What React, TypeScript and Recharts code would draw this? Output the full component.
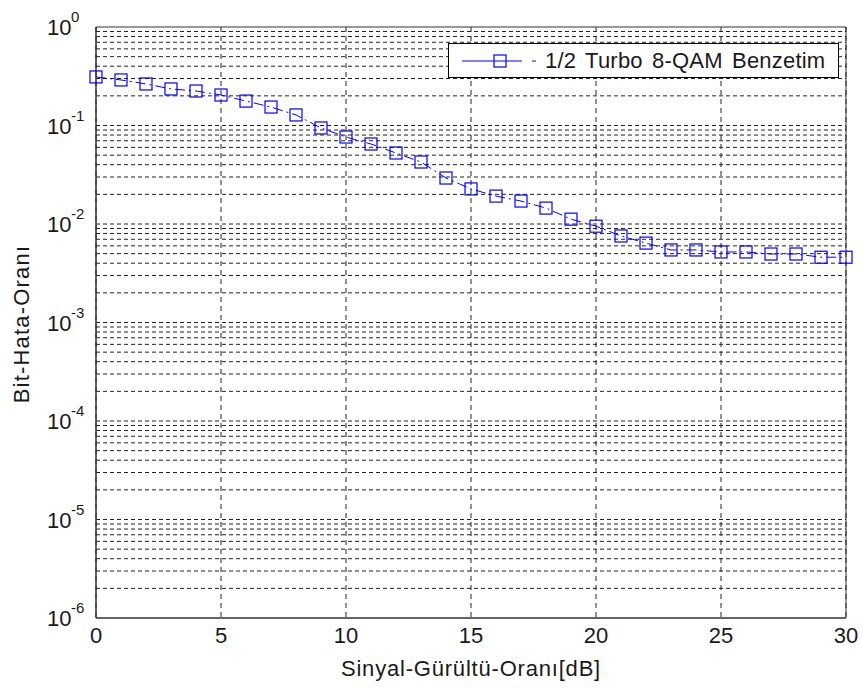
import React from 'react';
import {
  LineChart,
  Line,
  XAxis,
  YAxis,
  CartesianGrid,
  ReferenceLine,
  ReferenceArea,
  Legend,
} from 'recharts';

const snrDb = [0, 1, 2, 3, 4, 5, 6, 7, 8, 9, 10, 11, 12, 13, 14, 15, 16, 17, 18, 19, 20, 21, 22, 23, 24, 25, 26, 27, 28, 29, 30];
const berTurbo8Qam = [
  0.311, 0.29, 0.264, 0.235, 0.224, 0.204, 0.177, 0.154, 0.128, 0.0944,
  0.0764, 0.0649, 0.0526, 0.0426, 0.0293, 0.0227, 0.0192, 0.0171, 0.0145, 0.0112,
  0.0095, 0.00756, 0.0064, 0.00545, 0.00545, 0.0052, 0.0052, 0.00496, 0.00496, 0.0046, 0.0046,
];
const xTicks = [0, 5, 10, 15, 20, 25, 30];
const yTickExponents = [-6, -5, -4, -3, -2, -1, 0];
const seriesName = '1/2 Turbo 8-QAM Benzetim';
const xLabel = 'Sinyal-Gürültü-Oranı[dB]';
const yLabel = 'Bit-Hata-Oranı';

const data = snrDb.map((x, i) => ({ snr: x, ber: berTurbo8Qam[i] }));
const yTicks = yTickExponents.map((e) => Math.pow(10, e));

const gridValues: number[] = [];
for (let e = -6; e < 0; e++) {
  for (let m = 1; m <= 9; m++) {
    if (e === -6 && m === 1) continue;
    gridValues.push(m * Math.pow(10, e));
  }
}

const FONT = 'Arial, "Liberation Sans", sans-serif';
const TEXT = '#1a1a1a';
const BLUE = '#0000ff';

const YTick = (props: any) => {
  const { x, y, payload } = props;
  const exp = Math.round(Math.log10(payload.value));
  return (
    <g>
      <text x={x - 49} y={y} dy={8} fontSize={22} fill={TEXT} fontFamily={FONT} textAnchor="start">
        10
      </text>
      <text x={x - 25} y={y} dy={-5} fontSize={15} fill={TEXT} fontFamily={FONT} textAnchor="start">
        {String(exp)}
      </text>
    </g>
  );
};

const SquareDot = (props: any) => {
  const { cx, cy, index } = props;
  if (cx == null || cy == null) return <g key={index} />;
  return <rect key={index} x={cx - 6} y={cy - 6} width={12} height={12} fill="none" stroke={BLUE} strokeWidth={1.2} />;
};

const LegendBox = (props: any) => {
  const payload = props.payload || [];
  return (
    <div
      style={{
        border: '1px solid #000',
        background: '#fff',
        height: 35,
        display: 'flex',
        alignItems: 'center',
        boxSizing: 'border-box',
      }}
    >
      {payload.map((p: any, i: number) => (
        <div key={i} style={{ display: 'flex', alignItems: 'center' }}>
          <svg width={96} height={20} style={{ display: 'block' }}>
            <line x1={13} y1={10} x2={89} y2={10} stroke={BLUE} strokeWidth={1} strokeDasharray="60 10 4 4" />
            <rect x={45} y={4} width={12} height={12} fill="none" stroke={BLUE} strokeWidth={1.2} />
          </svg>
          <span style={{ fontFamily: FONT, fontSize: 22, color: TEXT, wordSpacing: 3, letterSpacing: 0.2 }}>{p.value}</span>
        </div>
      ))}
    </div>
  );
};

export default function App() {
  return (
    <div style={{ position: 'absolute', left: 0, top: 0, width: 862, height: 688, background: '#fff' }}>
      <LineChart width={862} height={688} data={data} margin={{ top: 27, right: 16, bottom: 10, left: 36 }}>
        <CartesianGrid horizontal={false} stroke="#222" strokeDasharray="5 4" />
        {gridValues.map((v) => (
          <ReferenceLine key={v} y={v} stroke="#222" strokeDasharray="4 3" ifOverflow="hidden" />
        ))}
        <XAxis
          dataKey="snr"
          type="number"
          domain={[0, 30]}
          ticks={xTicks}
          tickLine={false}
          tickSize={6}
          tickMargin={3}
          height={60}
          stroke="#333"
          tick={{ fontSize: 22, fill: TEXT, fontFamily: FONT }}
          label={{
            content: () => (
              <text x={471} y={676} textAnchor="middle" fontSize={22} letterSpacing={0.8} fill={TEXT} fontFamily={FONT}>
                {xLabel}
              </text>
            ),
          }}
        />
        <YAxis
          type="number"
          scale="log"
          domain={[1e-6, 1]}
          ticks={yTicks}
          allowDataOverflow
          tickLine={false}
          tickSize={0}
          tickMargin={0}
          width={60}
          stroke="#333"
          tick={<YTick />}
          label={{
            content: () => (
              <text
                x={21}
                y={324}
                transform="rotate(-90, 21, 324)"
                textAnchor="middle"
                dominantBaseline="central"
                fontSize={22}
                letterSpacing={1.2}
                fill={TEXT}
                fontFamily={FONT}
              >
                {yLabel}
              </text>
            ),
          }}
        />
        <ReferenceArea x1={0} x2={30} y1={1e-6} y2={1} fill="none" stroke="#333" strokeWidth={1} />
        <Legend
          layout="horizontal"
          verticalAlign="middle"
          align="center"
          content={<LegendBox />}
          wrapperStyle={{ position: 'absolute', top: 43, left: 448, width: 391 }}
        />
        <Line
          name={seriesName}
          dataKey="ber"
          stroke={BLUE}
          strokeWidth={1}
          strokeDasharray="10 4 2 4"
          dot={<SquareDot />}
          activeDot={false}
          isAnimationActive={false}
        />
      </LineChart>
    </div>
  );
}
